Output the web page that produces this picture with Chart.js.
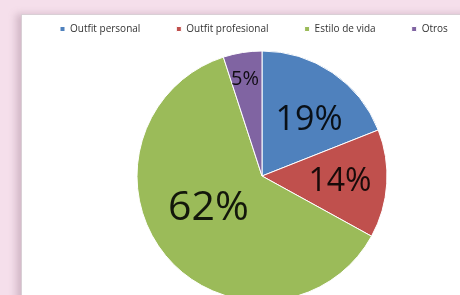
<!DOCTYPE html>
<html>
<head>
<meta charset="utf-8">
<script src="https://cdn.jsdelivr.net/npm/chart.js@4"></script>
<style>
    html, body {
        margin: 0;
        padding: 0;
        width: 460px;
        height: 295px;
        overflow: hidden;
        background: #f5dfeb;
    }
    .card {
        position: absolute;
        left: 21px;
        top: 14px;
        width: 460px;
        height: 300px;
        background: #fff;
        border: 1px solid #d9cfd5;
        box-shadow: -5px 0 7px rgba(150, 115, 135, 0.35);
    }
    #pieChart {
        position: absolute;
        left: 24px;
        top: -12px;
    }
</style>
</head>
<body>
<div class="card"></div>
<canvas id="pieChart" width="476" height="320"></canvas>
<script>
// data
const categories = ['Outfit personal', 'Outfit profesional', 'Estilo de vida', 'Otros'];
const shares = [19, 14, 62, 5];

// styling
const sliceColors = ['#4f81bd', '#c0504d', '#9bbb59', '#8064a2'];
const labelFontSizes = [34, 32, 41, 20];
// label centre relative to pie centre, in units of the radius
const labelSpots = [[0.376, -0.444], [0.624, 0.048], [-0.428, 0.26], [-0.136, -0.776]];

// draws the % labels inside each slice
const sliceLabels = {
    id: 'sliceLabels',
    afterDatasetsDraw(chart) {
        const ctx = chart.ctx;
        const meta = chart.getDatasetMeta(0);
        ctx.save();
        ctx.textAlign = 'center';
        ctx.textBaseline = 'middle';
        ctx.fillStyle = 'rgba(0, 0, 0, 0.88)';
        meta.data.forEach(function(arc, i) {
            const p = arc.getProps(['x', 'y', 'outerRadius'], true);
            ctx.font = labelFontSizes[i] + 'px "Open Sans", "Liberation Sans", sans-serif';
            ctx.fillText(shares[i] + '%',
                p.x + labelSpots[i][0] * p.outerRadius,
                p.y + labelSpots[i][1] * p.outerRadius);
        });
        ctx.restore();
    }
};

const ctx = document.getElementById('pieChart').getContext('2d');
const pieChart = new Chart(ctx, {
    type: 'pie',
    data: {
        labels: categories,
        datasets: [{
            data: shares,
            backgroundColor: sliceColors,
            borderColor: '#ffffff',
            borderWidth: 1
        }]
    },
    options: {
        responsive: false,
        animation: false,
        radius: 125,
        clip: false,
        layout: { padding: 0 },
        plugins: {
            tooltip: { enabled: false },
            legend: {
                position: 'top',
                align: 'start',
                maxHeight: 60,
                labels: {
                    boxWidth: 5,
                    boxHeight: 5,
                    padding: 36,
                    color: '#333333',
                    font: { family: '"Open Sans", sans-serif', size: 10 }
                }
            }
        }
    },
    plugins: [sliceLabels]
});
</script>
</body>
</html>
